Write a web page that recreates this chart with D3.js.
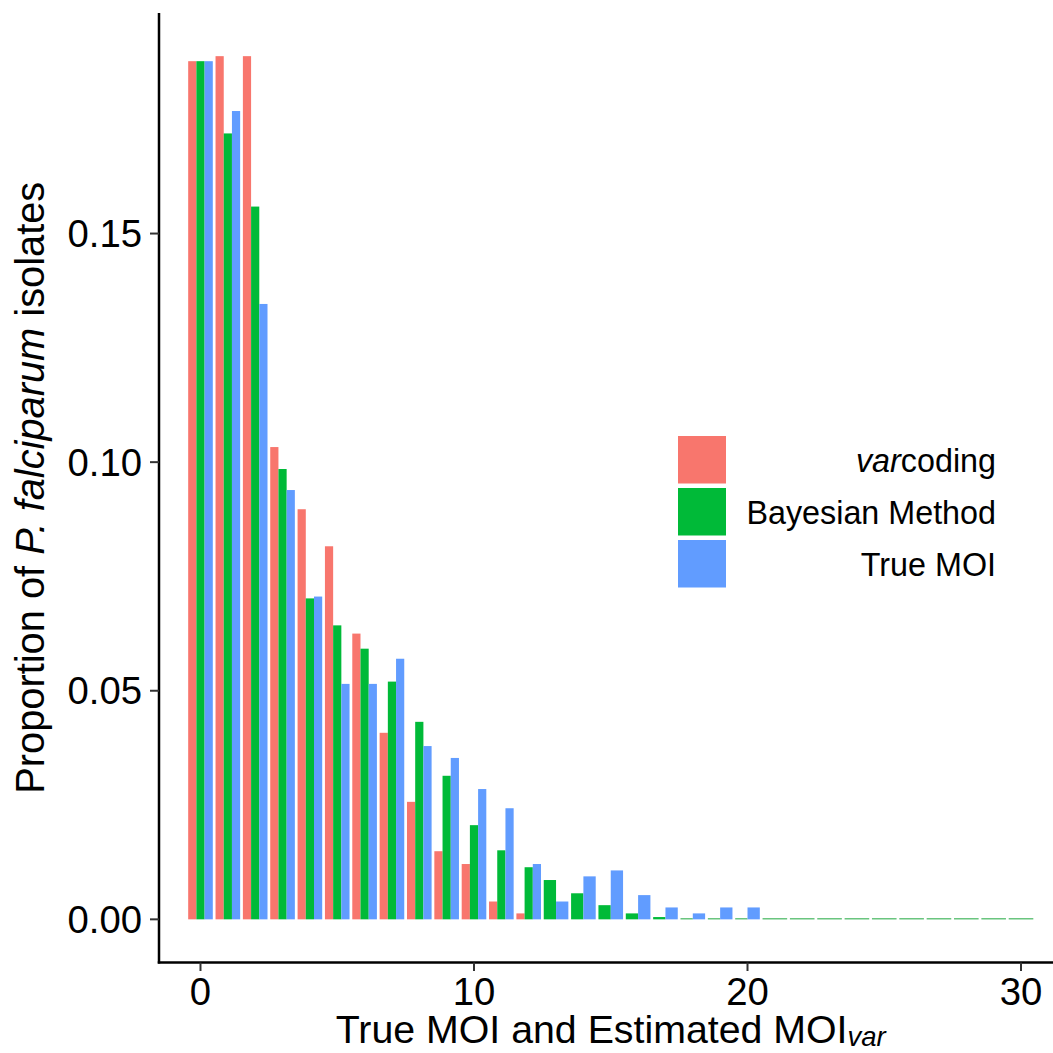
<!DOCTYPE html>
<html>
<head>
<meta charset="utf-8">
<script src="https://cdn.jsdelivr.net/npm/d3@7"></script>
<style>
  html, body { margin: 0; padding: 0; background: #fff; }
  svg { display: block; font-family: "Liberation Sans", Arial, Helvetica, sans-serif; }
</style>
</head>
<body>
<script>
// ---- data ----
const seriesNames = ["varcoding", "Bayesian Method", "True MOI"];
const seriesColors = ["#F8766D", "#00BA38", "#619CFF"];
// proportions indexed by MOI value 0,1,2,...
const varcoding = [0.1877, 0.1888, 0.1888, 0.1033, 0.0897, 0.0816, 0.0625, 0.0408, 0.0257, 0.0149, 0.0121, 0.0039, 0.0013];
const bayesian = [0.1877, 0.1719, 0.1559, 0.0985, 0.0702, 0.0643, 0.0592, 0.0520, 0.0432, 0.0314, 0.0206, 0.0151, 0.0114, 0.0086, 0.0057, 0.0031, 0.0013, 0.0005, 0, 0, 0, 0, 0, 0, 0, 0, 0, 0, 0, 0, 0];
const trueMOI = [0.1877, 0.1768, 0.1346, 0.0939, 0.0706, 0.0515, 0.0515, 0.0570, 0.0379, 0.0353, 0.0285, 0.0243, 0.0121, 0.0039, 0.0094, 0.0107, 0.0053, 0.0026, 0.0013, 0.0026, 0.0026];
const xTicks = [0, 10, 20, 30];
const yTicks = [0, 0.05, 0.10, 0.15];
const yTickLabels = ["0.00", "0.05", "0.10", "0.15"];

const W = 1053, H = 1053;
const svg = d3.select("body").append("svg").attr("width", W).attr("height", H);

const allSeries = [varcoding, bayesian, trueMOI];
const maxX = d3.max(allSeries, s => s.length - 1);
const maxY = d3.max(allSeries, s => d3.max(s));

const x = d3.scaleLinear().domain([-1.517, 31.517]).range([159, 1062.5]);
const y = d3.scaleLinear().domain([-0.05 * maxY, 1.05 * maxY]).range([962.5, 13]);

// build dodged bars
const bars = [];
for (let m = 0; m <= maxX; m++) {
  const present = [];
  allSeries.forEach((s, si) => { if (m < s.length) present.push({si, v: s[m]}); });
  const w = 0.9 / present.length;
  present.forEach((p, i) => {
    bars.push({m, si: p.si, v: p.v, x0: m - 0.45 + i * w, x1: m - 0.45 + (i + 1) * w});
  });
}

svg.append("g").selectAll("rect").data(bars).join("rect")
  .attr("x", d => x(d.x0))
  .attr("width", d => x(d.x1) - x(d.x0))
  .attr("y", d => Math.min(y(d.v), y(0) - 1))
  .attr("height", d => Math.max(y(0) - y(d.v), 1))
  .attr("fill", d => d.v === 0 ? "#1fa83e" : seriesColors[d.si]);

// axes
const axisG = svg.append("g");
axisG.append("line").attr("x1", 159).attr("x2", 159).attr("y1", 13).attr("y2", 963.5)
  .attr("stroke", "#000").attr("stroke-width", 2.5);
axisG.append("line").attr("x1", 157.75).attr("x2", 1062.5).attr("y1", 962.5).attr("y2", 962.5)
  .attr("stroke", "#000").attr("stroke-width", 2.5);

// y ticks
const yt = axisG.selectAll(".yt").data(yTicks).join("g");
yt.append("line").attr("x1", 150).attr("x2", 159).attr("y1", d => y(d)).attr("y2", d => y(d))
  .attr("stroke", "#333").attr("stroke-width", 2);
yt.append("text").attr("x", 142).attr("y", d => y(d) + 13.5)
  .attr("text-anchor", "end").attr("font-size", 38.3).attr("fill", "#000")
  .text((d, i) => yTickLabels[i]);

// x ticks
const xt = axisG.selectAll(".xt").data(xTicks).join("g");
xt.append("line").attr("x1", d => x(d)).attr("x2", d => x(d)).attr("y1", 962.5).attr("y2", 971)
  .attr("stroke", "#333").attr("stroke-width", 2);
xt.append("text").attr("x", d => x(d)).attr("y", 1004.5)
  .attr("text-anchor", "middle").attr("font-size", 38.3).attr("fill", "#000")
  .text(d => d);

// axis titles
const xTitle = svg.append("text").attr("x", (159 + 1062.5) / 2).attr("y", 1043)
  .attr("text-anchor", "middle").attr("font-size", 39.3).attr("fill", "#000");
xTitle.append("tspan").text("True MOI and Estimated MOI");
xTitle.append("tspan").attr("dy", 3).attr("font-size", 27.5).attr("font-style", "italic").text("var");

const yTitle = svg.append("text")
  .attr("transform", `translate(44,${(13 + 962.5) / 2}) rotate(-90)`)
  .attr("text-anchor", "middle").attr("font-size", 39.8).attr("fill", "#000");
yTitle.append("tspan").text("Proportion of ");
yTitle.append("tspan").attr("font-style", "italic").text("P. falciparum");
yTitle.append("tspan").text(" isolates");

// legend
const leg = svg.append("g");
const legY = [436, 488, 540];
seriesNames.forEach((name, i) => {
  leg.append("rect").attr("x", 678).attr("y", legY[i]).attr("width", 48).attr("height", 47.5)
    .attr("fill", seriesColors[i]);
  const t = leg.append("text").attr("x", 996).attr("y", legY[i] + 24 + 11.5)
    .attr("text-anchor", "end").attr("font-size", 32.3).attr("fill", "#000");
  if (i === 0) {
    t.append("tspan").attr("font-style", "italic").text("var");
    t.append("tspan").text("coding");
  } else {
    t.text(name);
  }
});
</script>
</body>
</html>
